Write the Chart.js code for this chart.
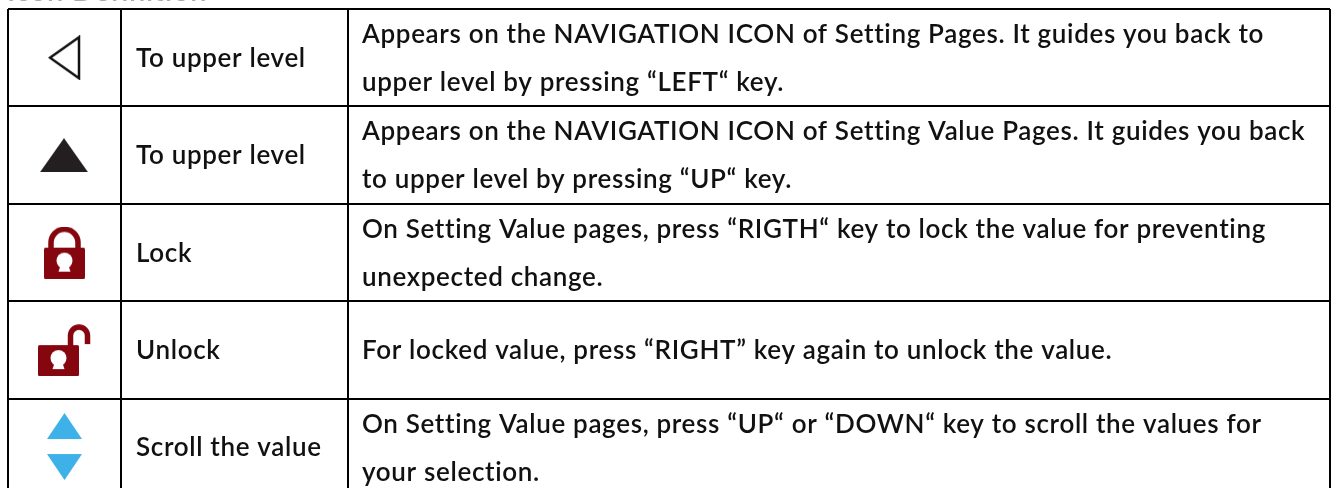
<!DOCTYPE html>
<html>
<head>
<meta charset="utf-8">
<title>Icon Definition</title>
<script src="https://cdn.jsdelivr.net/npm/chart.js@4"></script>
<style>
html, body { margin: 0; padding: 0; background: #fff; overflow: hidden; }
canvas { display: block; }
</style>
</head>
<body>
<canvas id="chart" width="1333" height="488"></canvas>
<script>
// table content
let heading = 'Icon Definition';
let iconKinds = ['backOutline', 'upSolid', 'lock', 'unlock', 'updown'];
let rowNames = ['To upper level', 'To upper level', 'Lock', 'Unlock', 'Scroll the value'];
let rowLines = [
    ['Appears on the NAVIGATION ICON of Setting Pages. It guides you back to', 'upper level by pressing \u201cLEFT\u201c key.'],
    ['Appears on the NAVIGATION ICON of Setting Value Pages. It guides you back', 'to upper level by pressing \u201cUP\u201c key.'],
    ['On Setting Value pages, press \u201cRIGTH\u201c key to lock the value for preventing', 'unexpected change.'],
    ['For locked value, press \u201cRIGHT\u201d key again to unlock the value.'],
    ['On Setting Value pages, press \u201cUP\u201c or \u201cDOWN\u201c key to scroll the values for', 'your selection.']
];

// x axis: column edges, y axis: row number
let columnEdges = [0, 113, 340, 1322];
let rowEdges = [0, 1, 2, 3, 4];
let rowsVisible = 4.915;

const FONT = '600 26px Lato, sans-serif';
const HEADING_FONT = '600 29px Lato, sans-serif';
const TEXT_COLOR = '#111111';
const LOCK_RED = '#86060f';
const ARROW_BLUE = '#3db1e8';

function makeIcon(w, h, draw) {
    let c = document.createElement('canvas');
    c.width = w;
    c.height = h;
    draw(c.getContext('2d'));
    return c;
}

function tri(g, x1, y1, x2, y2, x3, y3) {
    g.beginPath();
    g.moveTo(x1, y1);
    g.lineTo(x2, y2);
    g.lineTo(x3, y3);
    g.closePath();
}

function lockBody(g, x, y) {
    g.fillStyle = LOCK_RED;
    g.beginPath();
    g.roundRect(x, y, 41, 31, 1.5);
    g.fill();
    // keyhole
    g.fillStyle = '#fff';
    g.beginPath();
    g.arc(x + 20.5, y + 13, 8, 0, Math.PI * 2);
    g.fill();
    g.beginPath();
    g.moveTo(x + 17.5, y + 15);
    g.lineTo(x + 23.5, y + 15);
    g.lineTo(x + 26.5, y + 24);
    g.lineTo(x + 14.5, y + 24);
    g.closePath();
    g.fill();
}

let icons = {
    backOutline: makeIcon(33, 45, g => {
        tri(g, 2, 22.5, 31, 2, 31, 43);
        g.lineWidth = 2.5;
        g.strokeStyle = '#111';
        g.stroke();
    }),
    upSolid: makeIcon(49, 34, g => {
        tri(g, 24, 0, 48, 34, 0, 34);
        g.fillStyle = '#231f20';
        g.fill();
    }),
    lock: makeIcon(41, 52, g => {
        g.strokeStyle = LOCK_RED;
        g.lineWidth = 5.5;
        g.beginPath();
        g.moveTo(7, 24);
        g.lineTo(7, 16);
        g.arc(20.5, 16, 13.5, Math.PI, 0);
        g.lineTo(34, 24);
        g.stroke();
        lockBody(g, 0, 21);
    }),
    unlock: makeIcon(53, 52, g => {
        g.strokeStyle = LOCK_RED;
        g.lineWidth = 5.5;
        g.beginPath();
        g.moveTo(32.5, 26);
        g.lineTo(32.5, 11.5);
        g.arc(41, 11.5, 8.5, Math.PI, 0);
        g.lineTo(49.5, 20);
        g.stroke();
        lockBody(g, 0, 21);
    }),
    updown: makeIcon(35, 69, g => {
        g.fillStyle = ARROW_BLUE;
        tri(g, 17.5, 0, 35, 26, 0, 26);
        g.fill();
        tri(g, 0, 41, 35, 41, 17.5, 67);
        g.fill();
    })
};

// writes the table text in scale coordinates
const tableText = {
    id: 'tableText',
    afterDatasetsDraw(chart) {
        let { ctx, scales: { x, y } } = chart;
        ctx.save();
        ctx.font = FONT;
        ctx.fillStyle = TEXT_COLOR;
        ctx.textBaseline = 'middle';
        ctx.textAlign = 'left';
        ctx.letterSpacing = '0.66px';
        rowNames.forEach((name, i) => {
            ctx.fillText(name, x.getPixelForValue(columnEdges[1]) + 15, y.getPixelForValue(i + 0.5) + 0.5);
        });
        rowLines.forEach((lines, i) => {
            lines.forEach((line, k) => {
                let at = lines.length === 1 ? 0.5 : 0.255 + k * 0.495;
                ctx.fillText(line, x.getPixelForValue(columnEdges[2]) + 14, y.getPixelForValue(i + at) + 0.5);
            });
        });
        // heading cut off by the top of the picture
        ctx.font = HEADING_FONT;
        ctx.textBaseline = 'alphabetic';
        ctx.fillStyle = '#aaa';
        ctx.fillText(heading, x.getPixelForValue(0) - 1, y.getPixelForValue(-0.08));
        ctx.restore();
    }
};

const columnMiddle = (columnEdges[0] + columnEdges[1]) / 2;

new Chart(document.getElementById('chart').getContext('2d'), {
    type: 'scatter',
    data: {
        datasets: [{
            data: iconKinds.map((kind, i) => ({ x: columnMiddle, y: i + 0.5 })),
            pointStyle: iconKinds.map(kind => icons[kind]),
            pointRadius: 10,
            clip: false
        }]
    },
    options: {
        responsive: false,
        animation: false,
        events: [],
        layout: { autoPadding: false, padding: { left: 8, top: 9, right: 3, bottom: 0 } },
        plugins: { legend: { display: false }, tooltip: { enabled: false }, title: { display: false } },
        scales: {
            x: {
                type: 'linear',
                min: columnEdges[0],
                max: columnEdges[columnEdges.length - 1],
                afterBuildTicks: axis => { axis.ticks = columnEdges.map(value => ({ value })); },
                ticks: { display: false },
                border: { display: false },
                grid: { color: '#000', lineWidth: 2, drawTicks: false }
            },
            y: {
                type: 'linear',
                reverse: true,
                min: 0,
                max: rowsVisible,
                afterBuildTicks: axis => { axis.ticks = rowEdges.map(value => ({ value })); },
                ticks: { display: false },
                border: { display: false },
                grid: { color: '#000', lineWidth: 2, drawTicks: false }
            }
        }
    },
    plugins: [tableText]
});
</script>
</body>
</html>
